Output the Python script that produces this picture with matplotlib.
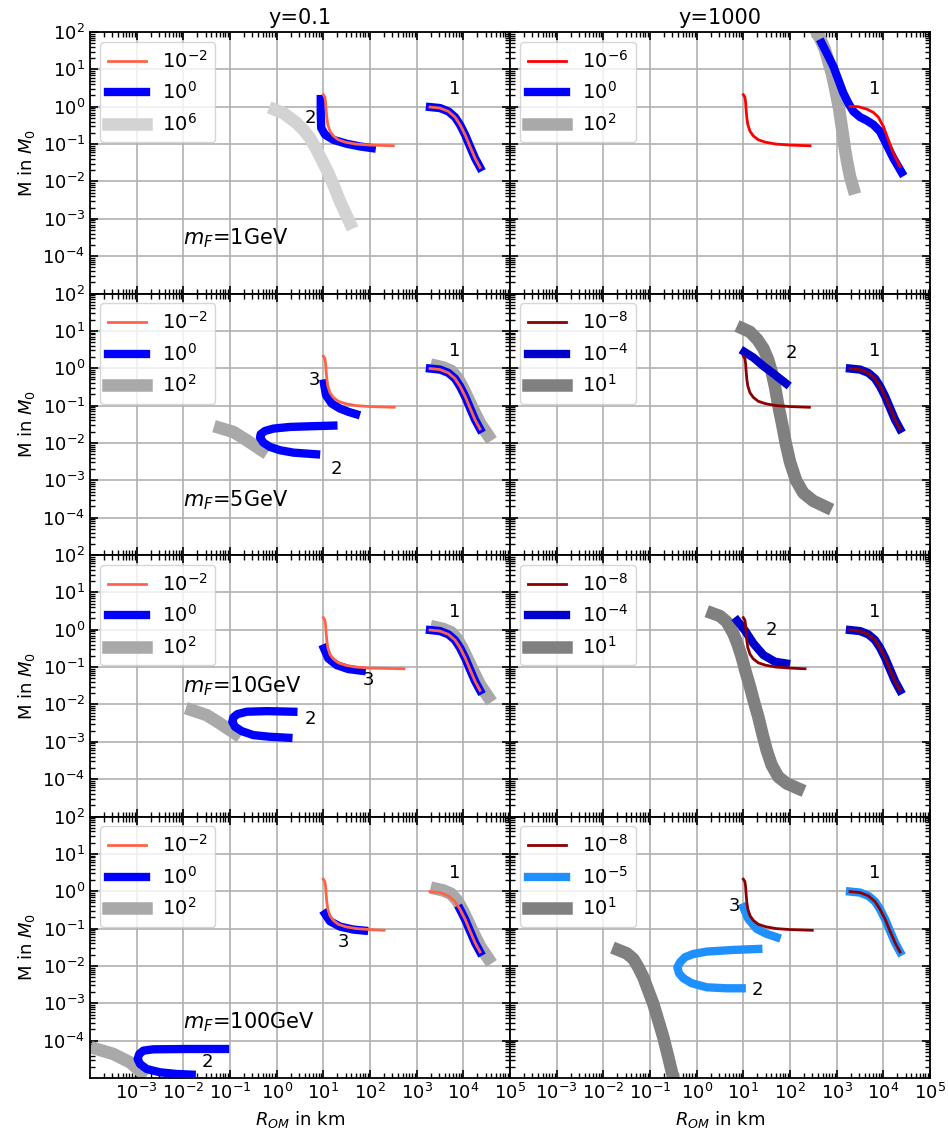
import matplotlib.pyplot as plt
import numpy as np
from matplotlib.ticker import LogLocator, NullFormatter

# ---- shared branches (same shape in most panels) ----
# thin curve, branch 3 (end point differs per panel)
thin_x = [10, 10.8, 11.2, 11.5, 11.9, 12.5, 13.9, 16.4, 21, 30, 50, 100]
thin_y = [2.1, 1.8, 1.3, 0.8, 0.5, 0.33, 0.22, 0.165, 0.13, 0.112, 0.1, 0.094]
thin_end_left = [316, 331, 536, 200]
thin_end_right = [269, 260, 210, 300]
thin_end_y = 0.09

# branch 1
br1_x = [1930, 3160, 4780, 6620, 8490, 10900, 13900, 17800, 22800]
br1_y = [0.98, 0.92, 0.75, 0.53, 0.33, 0.178, 0.0865, 0.042, 0.0237]
# grey underlay of branch 1 (left column, rows 2-4)
gr1_x = [2690, 3700, 5500, 7500, 9800, 12800, 17000, 23000, 34000]
gr1_y = [1.15, 1.05, 0.85, 0.55, 0.3, 0.15, 0.07, 0.033, 0.016]

# ---- row 1, y=0.1, m_F=1GeV ----
p00_blue_x = [8.8, 8.8, 9.0, 10.9, 16.4, 31.6, 61, 109]
p00_blue_y = [1.6, 0.68, 0.27, 0.178, 0.13, 0.102, 0.0865, 0.078]
p00_gray_x = [0.92, 1.39, 1.93, 2.68, 3.73, 5.18, 7.2, 10, 12.8, 16.4, 22.8, 37.3]
p00_gray_y = [0.83, 0.676, 0.497, 0.365, 0.242, 0.145, 0.0705, 0.031, 0.0167,
              0.00815, 0.00291, 7.66e-4]

# ---- row 1, y=1000 ----
p01_thin1_x = [1930, 2910, 4394, 6109, 7810, 10000, 12790, 16370, 22760]
p01_thin1_y = [1.02, 1.0, 0.866, 0.705, 0.528, 0.297, 0.13, 0.0574, 0.0252]
p01_blue_x = [477, 562, 720, 849, 1086, 1390, 1778, 2275, 3162, 4394, 6109, 8483,
              11790, 16370, 24700]
p01_blue_y = [50.7, 33.7, 18.2, 12.0, 5.28, 2.32, 1.25, 0.75, 0.528, 0.43, 0.33,
              0.218, 0.096, 0.042, 0.0174]
p01_gray_x = [316, 372, 454, 562, 662, 782, 891, 1000, 1122, 1219, 1346, 1510,
              1694, 1932, 2275]
p01_gray_y = [148, 100, 62.4, 33.6, 16.4, 7.98, 3.88, 1.89, 0.92, 0.449, 0.197,
              0.0705, 0.031, 0.0136, 0.00662]

# ---- row 2, y=0.1, m_F=5GeV ----
p10_blue3_x = [10.3, 11.4, 15.1, 22.8, 34.4, 50.1]
p10_blue3_y = [0.39, 0.19, 0.113, 0.083, 0.068, 0.059]
p10_blue2_x = [16.4, 5.18, 1.93, 0.849, 0.562, 0.454, 0.44, 0.518, 0.72, 1.18,
               2.28, 6.97]
p10_blue2_y = [0.0291, 0.0279, 0.0268, 0.0242, 0.0209, 0.0171, 0.0139, 0.0102,
               0.00782, 0.00637, 0.0055, 0.00497]
p10_gray2_x = [0.0611, 0.118, 0.228, 0.478]
p10_gray2_y = [0.0252, 0.0197, 0.0118, 0.00637]

# ---- row 2, y=1000 ----
p11_blue2_x = [10.5, 16.4, 26.9, 44, 82]
p11_blue2_y = [2.74, 1.93, 1.14, 0.72, 0.39]
p11_gray_x = [9.68, 13.9, 19.95, 26.9, 34.3, 40.5, 47.7, 56.2, 67.4, 80.8, 100,
              134.6, 193, 316, 590]
p11_gray_y = [11.55, 9.4, 5.87, 3.37, 1.64, 0.798, 0.316, 0.1, 0.033, 0.01,
              0.0031, 0.001, 4.58e-4, 2.8e-4, 1.93e-4]

# ---- row 3, y=0.1, m_F=10GeV ----
p20_blue3_x = [10.3, 12.8, 19.3, 34.4, 66.2]
p20_blue3_y = [0.316, 0.17, 0.113, 0.0883, 0.0798]
p20_blue2_x = [2.28, 0.611, 0.228, 0.144, 0.118, 0.112, 0.128, 0.178, 0.316,
               0.72, 1.78]
p20_blue2_y = [0.00637, 0.00662, 0.00637, 0.0055, 0.00449, 0.00344, 0.00252,
               0.00193, 0.00151, 0.00136, 0.00128]
p20_gray2_x = [0.0151, 0.0316, 0.0611, 0.128]
p20_gray2_y = [0.00705, 0.00518, 0.0031, 0.00167]

# ---- row 3, y=1000 ----
p21_blue2_x = [7.4, 10.9, 16.4, 26.9, 47.7, 82]
p21_blue2_y = [1.74, 0.94, 0.43, 0.21, 0.139, 0.125]
p21_gray_x = [2.2, 3.16, 4.39, 6.1, 7.43, 9.2, 11.2, 13.9, 16.9, 20.9, 25.5,
              31.6, 40.5, 56.2, 84.9, 151]
p21_gray_y = [2.74, 2.32, 1.64, 0.798, 0.43, 0.189, 0.075, 0.0297, 0.0118,
              0.00468, 0.00167, 5.98e-4, 2.37e-4, 1.15e-4, 7.66e-5, 5.6e-5]

# ---- row 4, y=0.1, m_F=100GeV ----
p30_blue3_x = [10.9, 13.9, 22.8, 44, 74.3]
p30_blue3_y = [0.247, 0.157, 0.113, 0.094, 0.0883]
p30_blue2_x = [0.0782, 0.0118, 0.00228, 0.00139, 0.00114, 0.00105, 0.00118,
               0.00164, 0.00316, 0.0072, 0.0151]
p30_blue2_y = [5.98e-5, 5.98e-5, 5.86e-5, 5.4e-5, 4.4e-5, 3.23e-5, 2.37e-5,
               1.74e-5, 1.42e-5, 1.28e-5, 1.23e-5]
p30_gray2_x = [1.39e-4, 3.16e-4, 7.2e-4, 1.28e-3]
p30_gray2_y = [5.98e-5, 4.4e-5, 2.63e-5, 1.41e-5]

# ---- row 4, y=1000 ----
p31_blue3_x = [10, 12.8, 19.3, 31.6, 51.8]
p31_blue3_y = [0.37, 0.18, 0.098, 0.072, 0.0586]
p31_blue2_x = [20.9, 6.1, 1.64, 0.849, 0.562, 0.44, 0.386, 0.418, 0.518, 0.782,
               1.64, 4.39, 9.2]
p31_blue2_y = [0.0285, 0.0268, 0.0242, 0.0209, 0.0171, 0.0125, 0.0092, 0.00637,
               0.00468, 0.00344, 0.00268, 0.00252, 0.00252]
p31_gray_x = [0.0209, 0.0316, 0.044, 0.0562, 0.072, 0.092, 0.118, 0.151, 0.193,
              0.247, 0.316, 0.373]
p31_gray_y = [0.0268, 0.0218, 0.0154, 0.0092, 0.00497, 0.00218, 9.6e-4, 3.43e-4,
              1.23e-4, 3.58e-5, 1e-5, 3.7e-6]

masses = ['1GeV', '5GeV', '10GeV', '100GeV']
mf_y = [3e-4, 2.9e-4, 0.03, 3.1e-4]
col_titles = ['y=0.1', 'y=1000']

left_labels = [['$10^{-2}$', '$10^{0}$', '$10^{6}$']] + [['$10^{-2}$', '$10^{0}$', '$10^{2}$']] * 3
right_labels = [['$10^{-6}$', '$10^{0}$', '$10^{2}$'],
                ['$10^{-8}$', '$10^{-4}$', '$10^{1}$'],
                ['$10^{-8}$', '$10^{-4}$', '$10^{1}$'],
                ['$10^{-8}$', '$10^{-5}$', '$10^{1}$']]
left_colors = [['tomato', 'blue', 'lightgray']] + [['tomato', 'blue', 'darkgray']] * 3
right_colors = [['red', 'blue', 'darkgray'],
                ['darkred', 'mediumblue', 'gray'],
                ['darkred', 'mediumblue', 'gray'],
                ['darkred', 'dodgerblue', 'gray']]


def thin3(end):
    return thin_x + [end], thin_y + [thin_end_y]


# curves per panel: (thin list, blue list, gray list, number labels)
panels = {}
panels[0, 0] = ([thin3(thin_end_left[0]), (br1_x, br1_y)],
                [(p00_blue_x, p00_blue_y), (br1_x, br1_y)],
                [(p00_gray_x, p00_gray_y)],
                [('2', 5.2, 0.5), ('1', 6600, 3.0)])
panels[0, 1] = ([thin3(thin_end_right[0]), (p01_thin1_x, p01_thin1_y)],
                [(p01_blue_x, p01_blue_y)],
                [(p01_gray_x, p01_gray_y)],
                [('1', 6600, 3.0)])
panels[1, 0] = ([thin3(thin_end_left[1]), (br1_x, br1_y)],
                [(p10_blue3_x, p10_blue3_y), (p10_blue2_x, p10_blue2_y), (br1_x, br1_y)],
                [(p10_gray2_x, p10_gray2_y), (gr1_x, gr1_y)],
                [('3', 6.6, 0.48), ('2', 19.3, 0.002), ('1', 6600, 2.9)])
panels[1, 1] = ([thin3(thin_end_right[1]), (br1_x, br1_y)],
                [(p11_blue2_x, p11_blue2_y), (br1_x, br1_y)],
                [(p11_gray_x, p11_gray_y)],
                [('2', 105, 2.6), ('1', 6600, 2.9)])
panels[2, 0] = ([thin3(thin_end_left[2]), (br1_x, br1_y)],
                [(p20_blue3_x, p20_blue3_y), (p20_blue2_x, p20_blue2_y), (br1_x, br1_y)],
                [(p20_gray2_x, p20_gray2_y), (gr1_x, gr1_y)],
                [('3', 92, 0.045), ('2', 5.2, 0.004), ('1', 6600, 3.0)])
panels[2, 1] = ([thin3(thin_end_right[2]), (br1_x, br1_y)],
                [(p21_blue2_x, p21_blue2_y), (br1_x, br1_y)],
                [(p21_gray_x, p21_gray_y)],
                [('2', 40, 1.0), ('1', 6600, 3.0)])
panels[3, 0] = ([thin3(thin_end_left[3]), (br1_x, br1_y)],
                [(p30_blue3_x, p30_blue3_y), (p30_blue2_x, p30_blue2_y), (br1_x[4:], br1_y[4:])],
                [(p30_gray2_x, p30_gray2_y), (gr1_x, gr1_y)],
                [('3', 27, 0.043), ('2', 0.032, 2.6e-5), ('1', 6600, 3.0)])
panels[3, 1] = ([thin3(thin_end_right[3]), (br1_x, br1_y)],
                [(p31_blue3_x, p31_blue3_y), (p31_blue2_x, p31_blue2_y), (br1_x, br1_y)],
                [(p31_gray_x, p31_gray_y)],
                [('3', 6.6, 0.39), ('2', 20, 0.0023), ('1', 6600, 3.0)])

fig, axes = plt.subplots(4, 2, figsize=(9.48, 11.35), dpi=100, sharex=True, sharey=True)
fig.subplots_adjust(left=90/948, right=930/948, top=1-32/1135, bottom=1-1078/1135,
                    hspace=0, wspace=0)

lws = [2, 6, 9]
zs = [4, 3, 2]

for r in range(4):
    for c in range(2):
        ax = axes[r, c]
        thins, blues, grays, nums = panels[r, c]
        cols = left_colors[r] if c == 0 else right_colors[r]
        labs = left_labels[r] if c == 0 else right_labels[r]
        for k, group in enumerate([thins, blues, grays]):
            for i, (x, y) in enumerate(group):
                ax.plot(x, y, color=cols[k], lw=lws[k], zorder=zs[k],
                        label=labs[k] if i == 0 else None)
        for t, tx, ty in nums:
            ax.text(tx, ty, t, fontsize=13, ha='center', va='center', zorder=5)
        if c == 0:
            ax.text(0.01, mf_y[r], r'$m_F$=' + masses[r], fontsize=15, va='center')
            ax.set_ylabel(r'M in $M_0$', fontsize=13)
        if r == 0:
            ax.set_title(col_titles[c], fontsize=15)
        if r == 3:
            ax.set_xlabel(r'$R_{OM}$ in km', fontsize=13)
        ax.set_xscale('log')
        ax.set_yscale('log')
        ax.set_xlim(1e-4, 1e5)
        ax.set_ylim(1e-5, 1e2)
        ax.set_xticks([10.0**e for e in range(-3, 6)])
        ax.set_yticks([10.0**e for e in range(-4, 3)])
        ax.xaxis.set_minor_locator(LogLocator(base=10, subs=np.arange(2, 10), numticks=100))
        ax.yaxis.set_minor_locator(LogLocator(base=10, subs=np.arange(2, 10), numticks=100))
        ax.xaxis.set_minor_formatter(NullFormatter())
        ax.yaxis.set_minor_formatter(NullFormatter())
        ax.tick_params(which='both', direction='in', top=True, right=True, labelsize=13)
        ax.tick_params(which='major', length=6, width=1.2)
        ax.tick_params(which='minor', length=3.5, width=1)
        ax.grid(True, which='major', color='#b0b0b0', lw=1.2)
        for s in ax.spines.values():
            s.set_linewidth(1.3)
        ax.legend(loc='upper left', fontsize=14)

fig.savefig('out.png', dpi=100)
